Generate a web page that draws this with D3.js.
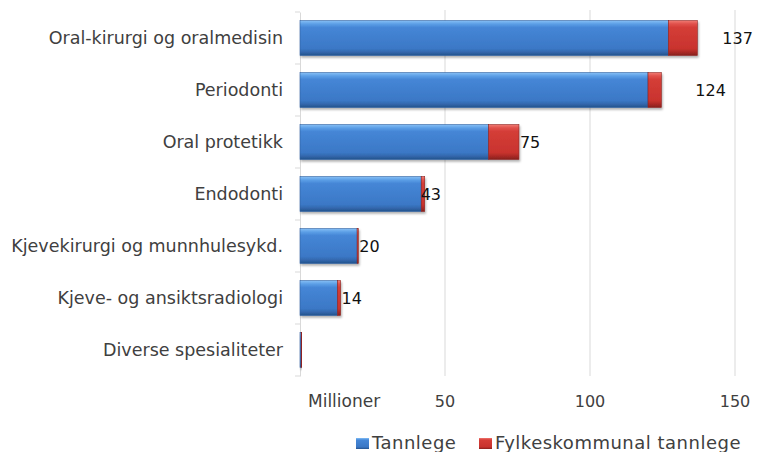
<!DOCTYPE html>
<html>
<head>
<meta charset="utf-8">
<script src="https://cdn.jsdelivr.net/npm/d3@7"></script>
<style>
  body { margin: 0; background: #fff; }
  text { font-family: "DejaVu Sans", Verdana, sans-serif; fill: #404040; }
</style>
</head>
<body>
<div id="chart"></div>
<script>
// data
var categories = [
    "Oral-kirurgi og oralmedisin",
    "Periodonti",
    "Oral protetikk",
    "Endodonti",
    "Kjevekirurgi og munnhulesykd.",
    "Kjeve- og ansiktsradiologi",
    "Diverse spesialiteter"
];
var tannlege = [127, 120, 65, 41.8, 19.7, 12.9, 0.4];
var fylke = [10, 4.6, 10.5, 1.2, 0.4, 1.1, 0.2];
var totalLabels = ["137", "124", "75", "43", "20", "14", ""];
var xTicks = [50, 100, 150];
var seriesNames = ["Tannlege", "Fylkeskommunal tannlege"];

var width = 757, height = 452;
var margin = { top: 12, left: 300, right: 22, bottom: 76 };
var innerW = width - margin.left - margin.right,
    innerH = height - margin.top - margin.bottom;

var x = d3.scaleLinear().domain([0, 150]).range([0, 435]);
var y = d3.scaleBand().domain(categories).range([0, innerH]).paddingInner(0.33).paddingOuter(0.165);

var svg = d3.select("#chart").append("svg")
    .attr("width", width)
    .attr("height", height);

var defs = svg.append("defs");
function grad(id, stops) {
    var g = defs.append("linearGradient").attr("id", id)
        .attr("x1", 0).attr("y1", 0).attr("x2", 0).attr("y2", 1);
    stops.forEach(function (s) {
        g.append("stop").attr("offset", s[0]).attr("stop-color", s[1]);
    });
}
grad("blueG", [[0, "#86bff5"], [0.1, "#5b9ee6"], [0.2, "#4586d6"], [0.8, "#3b78c6"], [0.9, "#3368ae"], [1, "#24528c"]]);
grad("redG", [[0, "#f07a73"], [0.1, "#e0504a"], [0.2, "#d43d37"], [0.8, "#c9332e"], [0.9, "#ad2a26"], [1, "#85201d"]]);

var g = svg.append("g")
    .attr("transform", "translate(" + margin.left + "," + margin.top + ")");

// gridlines
g.selectAll(".grid")
    .data(xTicks)
    .enter().append("line")
    .attr("class", "grid")
    .attr("x1", function (d) { return x(d); })
    .attr("x2", function (d) { return x(d); })
    .attr("y1", -2)
    .attr("y2", innerH)
    .attr("stroke", "#d9d9d9");

// left axis
var yAxis = d3.axisLeft(y).tickSize(0).tickFormat("");
g.append("g").call(yAxis).call(function (s) {
    s.select(".domain").attr("stroke", "#d9d9d9");
});
var bounds = categories.map(function (c) { return y(c) - y.step() * y.paddingInner() / 2; });
bounds.push(innerH);
g.selectAll(".ytick")
    .data(bounds)
    .enter().append("line")
    .attr("x1", -5).attr("x2", 0)
    .attr("y1", function (d) { return d; })
    .attr("y2", function (d) { return d; })
    .attr("stroke", "#d9d9d9");

// category labels
g.selectAll(".cat")
    .data(categories)
    .enter().append("text")
    .attr("x", -17)
    .attr("y", function (d) { return y(d) + y.bandwidth() / 2; })
    .attr("dy", "0.35em")
    .attr("text-anchor", "end")
    .style("font-size", "17.5px")
    .text(function (d) { return d; });

// bars
var shadow = defs.append("filter").attr("id", "sh").attr("x", "-5%").attr("y", "-20%").attr("width", "115%").attr("height", "160%");
shadow.append("feDropShadow").attr("dx", 1).attr("dy", 2).attr("stdDeviation", 1.2).attr("flood-color", "#000").attr("flood-opacity", 0.3);

var bars = g.selectAll(".bar")
    .data(categories)
    .enter().append("g")
    .attr("filter", "url(#sh)");

bars.append("rect")
    .attr("x", 0)
    .attr("y", function (d) { return y(d); })
    .attr("width", function (d, i) { return x(tannlege[i]); })
    .attr("height", y.bandwidth())
    .attr("fill", "url(#blueG)")
    .attr("stroke", "#2d5f9e")
    .attr("stroke-width", 0.6);

bars.append("rect")
    .attr("x", function (d, i) { return x(tannlege[i]); })
    .attr("y", function (d) { return y(d); })
    .attr("width", function (d, i) { return x(fylke[i]); })
    .attr("height", y.bandwidth())
    .attr("fill", "url(#redG)")
    .attr("stroke", "#8e2420")
    .attr("stroke-width", 0.6);

// total labels (nudged like the original)
var labelNudge = [25, 34, 1, -4, 1, 1, 0];
g.selectAll(".tot")
    .data(categories)
    .enter().append("text")
    .attr("x", function (d, i) { return x(tannlege[i] + fylke[i]) + labelNudge[i]; })
    .attr("y", function (d) { return y(d) + y.bandwidth() / 2; })
    .attr("dy", "0.35em")
    .style("font-size", "16px")
    .style("fill", "#111")
    .text(function (d, i) { return totalLabels[i]; });

// x axis labels
g.selectAll(".xt")
    .data(xTicks)
    .enter().append("text")
    .attr("x", function (d) { return x(d); })
    .attr("y", innerH + 31)
    .attr("text-anchor", "middle")
    .style("font-size", "16px")
    .text(function (d) { return d; });

g.append("text")
    .attr("x", 8)
    .attr("y", innerH + 31)
    .style("font-size", "17px")
    .text("Millioner");

// legend
var legend = svg.append("g").attr("transform", "translate(0,449)");
var legX = [356, 479];
var legFill = ["url(#blueG)", "url(#redG)"];
seriesNames.forEach(function (n, i) {
    legend.append("rect")
        .attr("x", legX[i]).attr("y", -11)
        .attr("width", 13).attr("height", 11)
        .attr("fill", legFill[i]);
    legend.append("text")
        .attr("x", legX[i] + 16)
        .attr("y", 0)
        .style("font-size", "18px")
        .style("letter-spacing", "0.5px")
        .text(n);
});
</script>
</body>
</html>
